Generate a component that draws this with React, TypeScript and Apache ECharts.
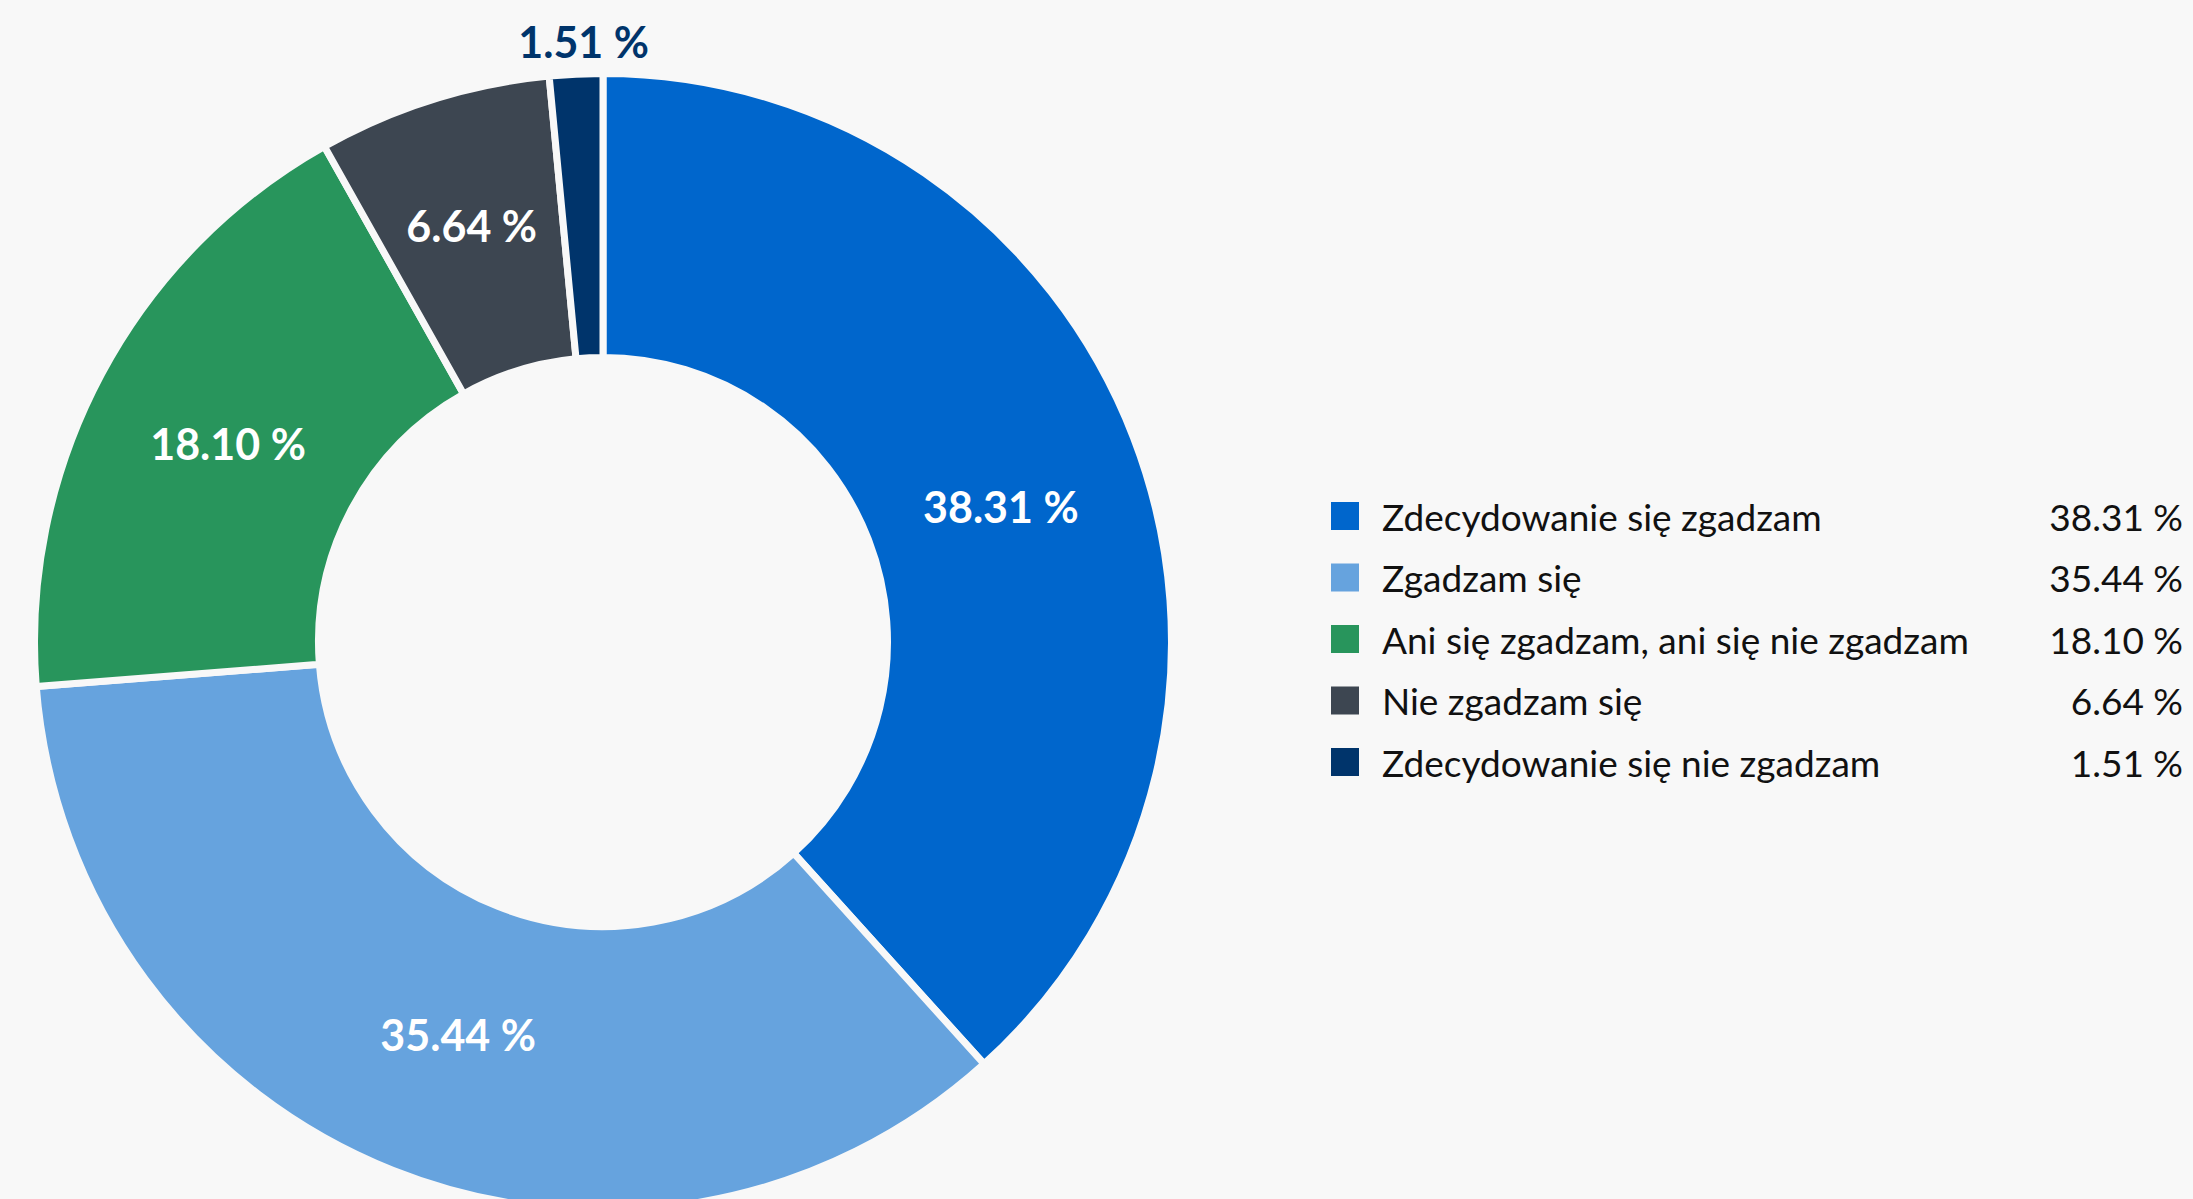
import React, { useEffect, useRef } from "react";
import * as echarts from "echarts";

const categories = [
  "Zdecydowanie się zgadzam",
  "Zgadzam się",
  "Ani się zgadzam, ani się nie zgadzam",
  "Nie zgadzam się",
  "Zdecydowanie się nie zgadzam",
];
const values = [38.31, 35.44, 18.1, 6.64, 1.51];
const colors = ["#0066cc", "#66a3de", "#28955c", "#3d4651", "#00346b"];
// small nudges of the slice labels (styling only)
const labelNudge: [number, number][] = [[-3, 19], [14, -7], [4, 4], [-3, -7], [1, -171]];

const BG = "#f8f8f8";
const fmt = (v: number) => v.toFixed(2) + " %";

export default function App() {
  const ref = useRef<HTMLDivElement>(null);
  useEffect(() => {
    if (!ref.current) return;
    const chart = echarts.init(ref.current, null, { renderer: "svg" });
    const data = categories.map((name, i) => {
      const item: any = {
        name,
        value: values[i],
        itemStyle: { color: colors[i] },
        label: { offset: labelNudge[i] },
      };
      if (i === 4) {
        item.label.color = "#00346b";
      }
      return item;
    });
    chart.setOption({
      animation: false,
      backgroundColor: BG,
      legend: {
        orient: "vertical",
        left: 1329,
        top: 497.5,
        padding: 0,
        itemWidth: 30,
        itemHeight: 30,
        itemGap: 24.5,
        icon: "rect",
        selectedMode: false,
        formatter: (name: string) => {
          const i = categories.indexOf(name);
          return `{s|}{n|${name}}{v|${fmt(values[i])}}`;
        },
        textStyle: {
          fontFamily: "Lato",
          color: "#111111",
          fontSize: 37,
          lineHeight: 30,
          rich: {
            s: { width: 17, lineHeight: 30 },
            n: { width: 661, fontSize: 37, fontFamily: "Lato", color: "#111111", lineHeight: 30 },
            v: { width: 140, align: "right", fontSize: 37, fontFamily: "Lato", color: "#111111", lineHeight: 30 },
          },
        },
      },
      series: [
        {
          type: "pie",
          center: [603, 642],
          radius: [284.5, 568.5],
          startAngle: 90,
          clockwise: true,
          avoidLabelOverlap: false,
          itemStyle: { borderColor: BG, borderWidth: 7 },
          label: {
            show: true,
            position: "inside",
            formatter: (p: any) => fmt(p.value),
            fontFamily: "Lato",
            fontWeight: "bold",
            fontSize: 43,
            color: "#ffffff",
          },
          labelLine: { show: false },
          emphasis: { disabled: true },
          data,
        },
      ],
    });
    return () => chart.dispose();
  }, []);
  return (
    <div
      ref={ref}
      style={{ position: "fixed", left: 0, top: 0, width: 2193, height: 1199, background: BG }}
    />
  );
}
